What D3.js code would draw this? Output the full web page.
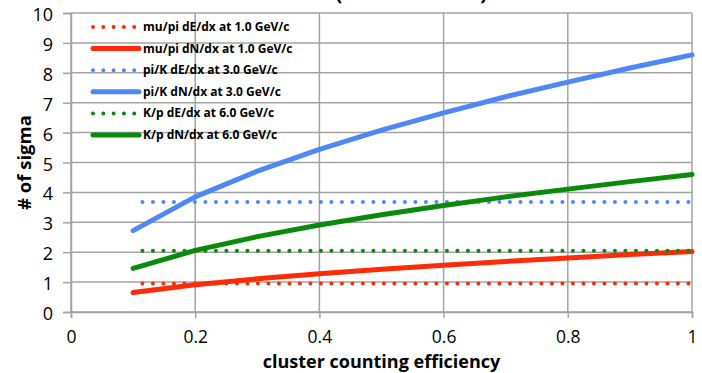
<!DOCTYPE html>
<html>
<head>
<meta charset="utf-8">
<script src="https://cdn.jsdelivr.net/npm/d3@7"></script>
<style>
  body { margin: 0; background: #fff; }
  svg { display: block; font-family: "Open Sans", sans-serif; }
</style>
</head>
<body>
<script>
// size of the drawing
var w = 702;
var h = 373;
var margin = {top: 13, right: 10, bottom: 61, left: 71};

// cluster counting efficiency
var efficiency = [0.1, 0.2, 0.3, 0.4, 0.5, 0.6, 0.7, 0.8, 0.9, 1.0];
// the dE/dx lines do not depend on efficiency
var efficiencyDedx = [0.115, 0.2, 0.3, 0.4, 0.5, 0.6, 0.7, 0.8, 0.9, 1.0];

// separation in # of sigma
var muPiDedx = [0.95, 0.95, 0.95, 0.95, 0.95, 0.95, 0.95, 0.95, 0.95, 0.95];
var muPiDndx = [0.65, 0.91, 1.11, 1.28, 1.43, 1.56, 1.69, 1.81, 1.92, 2.02];
var piKDedx = [3.68, 3.68, 3.68, 3.68, 3.68, 3.68, 3.68, 3.68, 3.68, 3.68];
var piKDndx = [2.72, 3.85, 4.71, 5.44, 6.08, 6.66, 7.20, 7.69, 8.16, 8.60];
var kPDedx = [2.05, 2.05, 2.05, 2.05, 2.05, 2.05, 2.05, 2.05, 2.05, 2.05];
var kPDndx = [1.46, 2.06, 2.52, 2.91, 3.25, 3.56, 3.85, 4.11, 4.36, 4.60];

var xTicks = [0, 0.2, 0.4, 0.6, 0.8, 1];
var yTicks = [0, 1, 2, 3, 4, 5, 6, 7, 8, 9, 10];

var red = "#ff2a06";
var blue = "#4d88f6";
var green = "#0a8a0a";

// legend order = drawing order
var series = [
  {name: "mu/pi dE/dx at 1.0 GeV/c", x: efficiencyDedx, y: muPiDedx, color: red, dotted: true},
  {name: "mu/pi dN/dx at 1.0 GeV/c", x: efficiency, y: muPiDndx, color: red, dotted: false},
  {name: "pi/K dE/dx at 3.0 GeV/c", x: efficiencyDedx, y: piKDedx, color: blue, dotted: true},
  {name: "pi/K dN/dx at 3.0 GeV/c", x: efficiency, y: piKDndx, color: blue, dotted: false},
  {name: "K/p dE/dx at 6.0 GeV/c", x: efficiencyDedx, y: kPDedx, color: green, dotted: true},
  {name: "K/p dN/dx at 6.0 GeV/c", x: efficiency, y: kPDndx, color: green, dotted: false}
];

var svg = d3.select("body")
    .append("svg")
    .attr("width", w)
    .attr("height", h);

var x = d3.scaleLinear().domain([0, 1]).range([margin.left, w - margin.right]);
var y = d3.scaleLinear().domain([0, 10]).range([h - margin.bottom, margin.top]);

var gridColor = "#a3a3a3";

// title, mostly above the top edge
svg.append("text")
    .attr("x", 357)
    .attr("y", 0)
    .attr("text-anchor", "middle")
    .attr("font-size", "20px")
    .attr("font-weight", "bold")
    .text("Particle ID (drift chamber)");

// grid
svg.append("g").selectAll("line")
    .data(yTicks)
    .enter()
    .append("line")
    .attr("x1", x(0))
    .attr("x2", x(1))
    .attr("y1", function(d) { return y(d); })
    .attr("y2", function(d) { return y(d); })
    .attr("stroke", gridColor)
    .attr("stroke-width", 1.5);

svg.append("g").selectAll("line")
    .data(xTicks)
    .enter()
    .append("line")
    .attr("x1", function(d) { return x(d); })
    .attr("x2", function(d) { return x(d); })
    .attr("y1", y(0))
    .attr("y2", y(10))
    .attr("stroke", gridColor)
    .attr("stroke-width", 1.5);

// axes
var yAxis = svg.append("g")
    .attr("transform", "translate(" + x(0) + ",0)")
    .call(d3.axisLeft(y).tickValues(yTicks).tickSize(8).tickPadding(10).tickFormat(d3.format("d")));

var xAxis = svg.append("g")
    .attr("transform", "translate(0," + y(0) + ")")
    .call(d3.axisBottom(x).tickValues(xTicks).tickSize(6).tickPadding(13).tickFormat(function(d) { return String(d); }));

[xAxis, yAxis].forEach(function(ax) {
  ax.select(".domain").attr("stroke", gridColor).attr("stroke-width", 1.5);
  ax.selectAll(".tick line").attr("stroke", gridColor).attr("stroke-width", 1.5);
  ax.selectAll(".tick text")
      .attr("fill", "#000")
      .attr("font-size", "18px")
      .attr("font-family", "'Open Sans', sans-serif");
});
yAxis.selectAll(".tick text").attr("dy", "0.42em");
xAxis.selectAll(".tick text").attr("font-size", "17.5px");

// axis titles
svg.append("text")
    .attr("x", (x(0) + x(1)) / 2)
    .attr("y", 368)
    .attr("text-anchor", "middle")
    .attr("font-size", "18px")
    .attr("font-weight", "bold")
    .text("cluster counting efficiency");

svg.append("text")
    .attr("transform", "translate(31," + y(5.0) + ") rotate(-90)")
    .attr("text-anchor", "middle")
    .attr("font-size", "18.5px")
    .attr("font-weight", "bold")
    .text("# of sigma");

// lines
var line = d3.line()
    .x(function(d) { return x(d[0]); })
    .y(function(d) { return y(d[1]); });

svg.append("g").selectAll("path")
    .data(series)
    .enter()
    .append("path")
    .attr("d", function(s) { return line(d3.zip(s.x, s.y)); })
    .attr("fill", "none")
    .attr("stroke", function(s) { return s.color; })
    .attr("stroke-width", function(s) { return s.dotted ? 4 : 5; })
    .attr("stroke-linecap", "round")
    .attr("stroke-linejoin", "round")
    .attr("stroke-dasharray", function(s) { return s.dotted ? "0 10.5" : null; });

// legend
var legend = svg.append("g")
    .attr("transform", "translate(92,27)");

var item = legend.selectAll("g")
    .data(series)
    .enter()
    .append("g")
    .attr("transform", function(d, i) { return "translate(0," + (i * 21.6) + ")"; });

item.append("line")
    .attr("x1", 1)
    .attr("x2", 47)
    .attr("stroke", function(s) { return s.color; })
    .attr("stroke-width", function(s) { return s.dotted ? 4 : 5; })
    .attr("stroke-linecap", "round")
    .attr("stroke-dasharray", function(s) { return s.dotted ? "0 10.3" : null; });

item.append("text")
    .attr("x", 51)
    .attr("y", 4)
    .attr("font-size", "12px")
    .attr("font-weight", "bold")
    .text(function(s) { return s.name; });
</script>
</body>
</html>
